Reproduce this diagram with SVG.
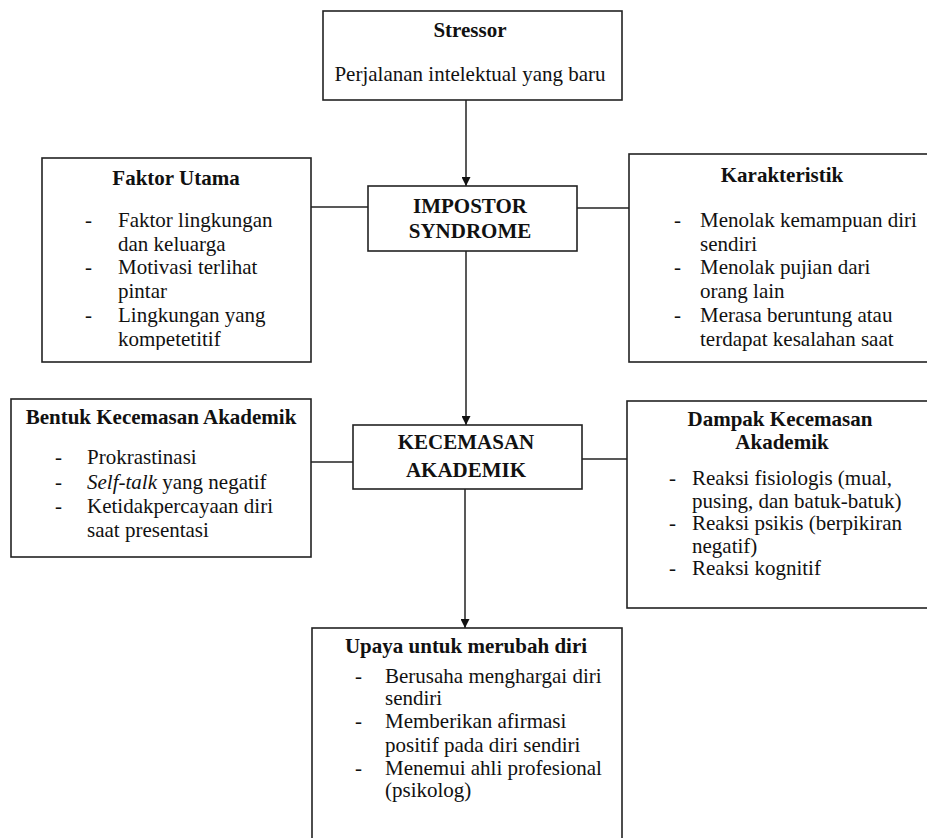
<svg xmlns="http://www.w3.org/2000/svg" width="927" height="838" viewBox="0 0 927 838">
<style>
.box{fill:#fff;stroke:#222;stroke-width:1.6}
.con{stroke:#222;stroke-width:1.5;fill:none}
text{font-family:"Liberation Serif","Times New Roman",serif;font-size:21px;fill:#111}
.t{font-weight:bold;text-anchor:middle}
.c{text-anchor:middle}
</style>
<defs>
<marker id="ah" markerWidth="10" markerHeight="9" refX="9" refY="4.5" orient="auto" markerUnits="userSpaceOnUse">
<path d="M0,0 L9,4.5 L0,9 Z" fill="#111"/>
</marker>
<clipPath id="clipF"><rect x="40" y="150" width="275" height="200"/></clipPath>
</defs>
<rect width="927" height="838" fill="#fff"/>
<g id="connectors">
<line class="con" x1="466" y1="100" x2="466" y2="186" marker-end="url(#ah)"/>
<line class="con" x1="311" y1="207" x2="368" y2="207"/>
<line class="con" x1="577" y1="208" x2="629" y2="208"/>
<line class="con" x1="466" y1="251" x2="466" y2="425" marker-end="url(#ah)"/>
<line class="con" x1="311" y1="462" x2="353" y2="462"/>
<line class="con" x1="582" y1="459" x2="627" y2="459"/>
<line class="con" x1="465" y1="489" x2="465" y2="628" marker-end="url(#ah)"/>
</g>
<g id="stressor">
<rect class="box" x="323" y="11" width="299" height="89"/>
<text class="t" x="470" y="37">Stressor</text>
<text class="c" x="470" y="81">Perjalanan intelektual yang baru</text>
</g>
<g id="faktor">
<rect class="box" x="42" y="158" width="269" height="204"/>
<text class="t" x="176" y="185">Faktor Utama</text>
<g clip-path="url(#clipF)">
<text x="85" y="227">-</text><text x="118" y="227">Faktor lingkungan</text>
<text x="118" y="250.7">dan keluarga</text>
<text x="85" y="274.4">-</text><text x="118" y="274.4">Motivasi terlihat</text>
<text x="118" y="298">pintar</text>
<text x="85" y="321.8">-</text><text x="118" y="321.8">Lingkungan yang</text>
<text x="118" y="345.5">kompetetitif</text>
</g>
</g>
<g id="karakteristik">
<rect class="box" x="629" y="154" width="302" height="208"/>
<text class="t" x="782" y="182">Karakteristik</text>
<text x="674" y="227">-</text><text x="700" y="227">Menolak kemampuan diri</text>
<text x="700" y="250.7">sendiri</text>
<text x="674" y="274.4">-</text><text x="700" y="274.4">Menolak pujian dari</text>
<text x="700" y="298">orang lain</text>
<text x="674" y="321.8">-</text><text x="700" y="321.8">Merasa beruntung atau</text>
<text x="700" y="345.5">terdapat kesalahan saat</text>
</g>
<g id="impostor">
<rect class="box" x="368" y="186" width="209" height="65"/>
<text class="t" x="470" y="213">IMPOSTOR</text>
<text class="t" x="470" y="238">SYNDROME</text>
</g>
<g id="bentuk">
<rect class="box" x="11" y="399" width="300" height="158"/>
<text class="t" x="161" y="424">Bentuk Kecemasan Akademik</text>
<text x="55" y="464">-</text><text x="87" y="464">Prokrastinasi</text>
<text x="55" y="489">-</text><text x="87" y="489"><tspan font-style="italic">Self-talk</tspan> yang negatif</text>
<text x="55" y="513">-</text><text x="87" y="513">Ketidakpercayaan diri</text>
<text x="87" y="537">saat presentasi</text>
</g>
<g id="kecemasan">
<rect class="box" x="353" y="425" width="229" height="64"/>
<text class="t" x="466" y="449">KECEMASAN</text>
<text class="t" x="466" y="477">AKADEMIK</text>
</g>
<g id="dampak">
<rect class="box" x="627" y="401" width="304" height="207"/>
<text class="t" x="780" y="426">Dampak Kecemasan</text>
<text class="t" x="782" y="449">Akademik</text>
<text x="669" y="485">-</text><text x="692" y="485">Reaksi fisiologis (mual,</text>
<text x="692" y="508">pusing, dan batuk-batuk)</text>
<text x="669" y="530">-</text><text x="692" y="530">Reaksi psikis (berpikiran</text>
<text x="692" y="553">negatif)</text>
<text x="669" y="575">-</text><text x="692" y="575">Reaksi kognitif</text>
</g>
<g id="upaya">
<rect class="box" x="312" y="628" width="310" height="230"/>
<text class="t" x="466" y="653">Upaya untuk merubah diri</text>
<text x="355" y="683">-</text><text x="385" y="683">Berusaha menghargai diri</text>
<text x="385" y="705">sendiri</text>
<text x="355" y="728">-</text><text x="385" y="728">Memberikan afirmasi</text>
<text x="385" y="752">positif pada diri sendiri</text>
<text x="355" y="775">-</text><text x="385" y="775">Menemui ahli profesional</text>
<text x="385" y="797">(psikolog)</text>
</g>
</svg>
